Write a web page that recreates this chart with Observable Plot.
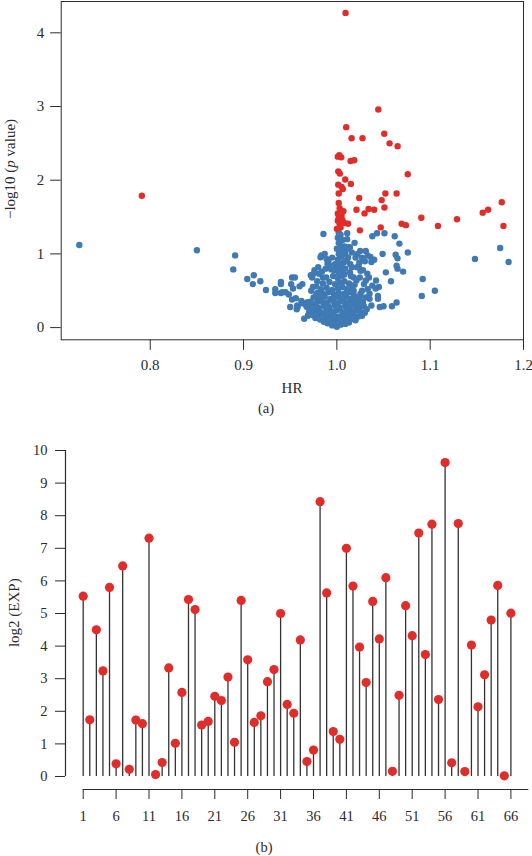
<!DOCTYPE html>
<html>
<head>
<meta charset="utf-8">
<script src="https://cdn.jsdelivr.net/npm/d3@7"></script>
<script src="https://cdn.jsdelivr.net/npm/@observablehq/plot@0.6"></script>
<style>
  html, body { margin: 0; padding: 0; background: #fff; }
  #wrap { width: 532px; height: 856px; overflow: hidden; }
  #wrap svg { display: block; }
  #wrap svg text { font-family: "Liberation Serif", "Times New Roman", serif; }
</style>
</head>
<body>
<div id="wrap"></div>
<script>
// ---------- Panel (a): HR vs -log10(p value) ----------
const redPoints = [
  [1.0093,4.27],[0.791,1.79],[1.0444,2.96],[1.010,2.72],[1.0158,2.57],[1.0275,2.57],
  [1.0508,2.63],[1.0565,2.50],[1.0651,2.46],[1.0026,2.34],[1.0047,2.31],[1.0010,2.32],
  [1.0147,2.26],[1.0186,2.27],[1.0015,2.12],[1.0032,2.09],[1.009,2.01],[1.076,2.08],
  [1.0015,1.94],[1.005,1.91],[1.015,1.95],[1.0064,1.88],[1.002,1.82],[1.024,1.76],
  [1.052,1.82],[1.064,1.82],[1.048,1.73],[1.002,1.69],[1.003,1.62],[1.007,1.58],
  [1.001,1.55],[1.005,1.52],[1.021,1.60],[1.034,1.61],[1.0297,1.55],[1.040,1.60],
  [1.051,1.63],[1.1767,1.70],[1.1563,1.56],[1.1621,1.60],[1.0905,1.49],[1.1287,1.47],
  [1.1083,1.38],[1.1785,1.38],[1.0694,1.41],[1.074,1.39],[1.012,1.41],[1.001,1.45],
  [1.003,1.40],[1.000,1.34],[1.0247,1.32],[1.047,1.36],[1.006,1.46],[1.004,1.36],
  [1.008,1.42],[1.002,1.49]
];

const bluePoints = [
  // far outliers and left arm
  [0.724,1.12],[0.850,1.05],[0.891,0.98],[0.889,0.79],[0.904,0.66],[0.911,0.71],
  [0.910,0.59],[0.918,0.63],[0.924,0.51],[0.934,0.52],[0.934,0.47],[0.940,0.59],
  [0.940,0.47],[0.9485,0.45],[0.952,0.68],[0.955,0.68],[0.951,0.59],[0.953,0.53],
  [0.960,0.56],[0.963,0.59],[0.952,0.38],[0.956,0.40],[0.950,0.28],[0.958,0.28],
  [0.957,0.25],[0.945,0.48],[0.9415,0.48],[0.940,0.62],[0.9575,0.30],
  // left of the cluster
  [0.968,0.34],[0.970,0.19],[0.975,0.23],[0.972,0.71],[0.975,0.73],[0.9735,0.68],
  [0.969,0.34],[0.967,0.30],[0.9707,0.23],[0.969,0.16],[0.9725,0.50],[0.9743,0.55],
  [0.978,0.45],[0.980,0.37],[0.965,0.12],[0.962,0.36],[0.963,0.33],
  [0.981,0.73],[0.985,0.68],[0.9887,0.68],[0.9834,0.98],[0.987,1.0],[0.9825,0.955],
  [0.991,0.89],[0.990,0.87],[0.976,0.78],[0.980,0.82],[0.984,0.76],[0.988,0.80],
  [0.992,0.84],[0.994,0.79],[0.989,0.93],[0.9856,1.27],
  // right scattered
  [1.148,0.93],[1.175,1.08],[1.184,0.89],[1.092,0.66],[1.091,0.43],[1.105,0.50],
  [1.076,1.02],[1.062,1.24],[1.067,1.14],[1.065,0.94],[1.063,0.99],[1.064,0.84],
  [1.065,0.80],[1.071,0.76],[1.058,0.63],[1.0525,0.75],[1.049,1.0],[1.051,1.28],
  [1.043,1.28],[1.038,1.24],[1.064,0.34],[1.059,0.29],[1.050,0.29],[1.045,0.55],
  [1.0415,0.53],[1.042,0.64],[1.038,0.57],[1.036,0.96],[1.040,0.92],[1.037,0.89],
  [1.031,1.04],[1.025,1.04],[1.022,1.0],[1.019,1.15],[1.0111,1.28],[1.014,1.09],
  [1.011,1.07],[1.035,0.46],[1.035,0.39],[1.037,0.30],[1.044,0.39],[1.044,0.43],
  [1.046,0.28],
  // right flank of the cluster
  [1.0107,0.91],[1.0144,0.86],[1.0162,0.82],[1.020,0.95],[1.0217,0.82],[1.0126,1.09],
  [1.0235,0.82],[1.0253,0.77],[1.018,0.68],[1.021,0.64],[1.0246,0.68],[1.029,0.59],
  [1.031,0.64],[1.0326,0.73],[1.0344,0.68],[1.027,0.50],[1.0253,0.46],[1.031,0.41],
  [1.028,0.34],[1.018,0.50],[1.0217,0.37],[1.0235,0.28],[1.0253,0.19],[1.027,0.16],
  [1.030,0.90],[1.027,0.95],[1.033,0.98],[1.016,1.02],[1.024,0.88],[1.028,0.78],
  [1.015,0.70],[1.033,0.52],[1.032,0.25],[1.030,0.20],
  // dense core
  [0.995,0.03],[1.000,0.01],[1.004,0.04],[0.990,0.06],[1.009,0.05],[1.013,0.07],[0.986,0.08],
  [0.982,0.11],[0.988,0.12],[0.994,0.10],[0.999,0.09],[1.005,0.11],[1.010,0.10],[1.016,0.12],
  [1.020,0.10],[0.977,0.13],
  [0.974,0.17],[0.980,0.16],[0.986,0.18],[0.992,0.16],[0.997,0.17],[1.002,0.15],[1.008,0.17],
  [1.013,0.16],[1.018,0.18],[1.023,0.15],
  [0.971,0.22],[0.977,0.23],[0.983,0.21],[0.989,0.23],[0.995,0.22],[1.000,0.24],[1.006,0.21],
  [1.011,0.23],[1.016,0.22],[1.021,0.24],[1.026,0.21],
  [0.968,0.28],[0.974,0.29],[0.980,0.27],[0.986,0.29],[0.992,0.28],[0.998,0.30],[1.003,0.27],
  [1.009,0.29],[1.014,0.28],[1.019,0.30],[1.024,0.27],[1.029,0.29],
  [0.972,0.35],[0.978,0.33],[0.984,0.35],[0.990,0.34],[0.996,0.36],[1.001,0.33],[1.007,0.35],
  [1.012,0.34],[1.017,0.36],[1.022,0.33],[1.027,0.35],
  [0.975,0.41],[0.981,0.40],[0.987,0.42],[0.993,0.39],[0.998,0.41],[1.004,0.40],[1.010,0.42],
  [1.015,0.39],[1.020,0.41],[1.025,0.43],
  [0.979,0.47],[0.985,0.46],[0.991,0.48],[0.997,0.45],[1.002,0.47],[1.008,0.46],[1.013,0.48],
  [1.018,0.45],
  [0.983,0.52],[0.989,0.54],[0.995,0.51],[1.001,0.53],[1.006,0.55],[1.011,0.52],[1.016,0.54],
  [0.978,0.56],
  [0.985,0.60],[0.992,0.62],[0.998,0.59],[1.003,0.61],[1.008,0.63],[1.013,0.60],[0.979,0.63],
  [1.019,0.58],
  // central column
  [1.001,0.67],[1.005,0.70],[1.002,0.74],[1.006,0.78],[1.000,0.81],[1.004,0.85],[1.007,0.88],
  [1.001,0.92],[1.005,0.96],[1.002,1.00],[1.006,1.04],[1.000,1.07],[1.004,1.11],[1.002,1.15],
  [1.006,1.19],[1.001,1.22],[1.004,1.26],[1.002,1.29],[1.008,0.72],[1.009,0.80],[1.010,0.90],
  [0.996,0.70],[0.997,0.78],[0.998,0.86],[1.009,1.00],[1.008,1.10],[1.011,1.20],[1.012,0.95],
  [1.014,0.75],[0.995,0.95]
];

const xTicksA = [0.8, 0.9, 1.0, 1.1, 1.2];
const yTicksA = [0, 1, 2, 3, 4];

// ---------- Panel (b): log2(EXP) lollipop ----------
const log2Exp = [
  5.53, 1.74, 4.50, 3.24, 5.80, 0.39, 6.46, 0.22, 1.73, 1.62,
  7.31, 0.06, 0.43, 3.33, 1.02, 2.58, 5.43, 5.12, 1.58, 1.69,
  2.46, 2.33, 3.05, 1.05, 5.40, 3.58, 1.66, 1.86, 2.91, 3.28,
  5.00, 2.21, 1.94, 4.19, 0.46, 0.81, 8.43, 5.63, 1.38, 1.14,
  7.00, 5.84, 3.97, 2.88, 5.37, 4.22, 6.10, 0.16, 2.49, 5.24,
  4.32, 7.47, 3.74, 7.74, 2.36, 9.63, 0.42, 7.76, 0.15, 4.03,
  2.14, 3.12, 4.80, 5.86, 0.02, 5.01
];
const xTicksB = [1, 6, 11, 16, 21, 26, 31, 36, 41, 46, 51, 56, 61, 66];
const yTicksB = [0, 1, 2, 3, 4, 5, 6, 7, 8, 9, 10];

const BLUE = "#3f7ab4";
const RED = "#e12d2a";
const INK = "#2b2b2b";
const FONT = "Liberation Serif";

const lolli = log2Exp.map((v, k) => ({i: k + 1, v}));

const chartA = Plot.plot({
  width: 532, height: 420,
  marginTop: 1, marginLeft: 60.7, marginRight: 9, marginBottom: 80.7,
  x: {domain: [0.7046, 1.2]},
  y: {domain: [-0.1655, 4.425]},
  style: {fontFamily: FONT, fontSize: "15px", color: INK, background: "#fff", overflow: "visible"},
  marks: [
    Plot.axisX({ticks: xTicksA, tickFormat: d3.format(".1f"), tickSize: 10.5, tickPadding: 9, label: null, fontSize: 15, fontFamily: FONT}),
    Plot.axisY({ticks: yTicksA, tickFormat: d3.format("d"), tickSize: 10.5, tickPadding: 6.5, label: null, fontSize: 15, fontFamily: FONT}),
    Plot.dot(bluePoints, {x: d => d[0], y: d => d[1], r: 3.2, fill: BLUE}),
    Plot.dot(redPoints, {x: d => d[0], y: d => d[1], r: 3.2, fill: RED}),
    Plot.frame({stroke: INK, strokeWidth: 1})
  ]
});

const chartB = Plot.plot({
  width: 532, height: 436,
  marginTop: 20, marginBottom: 67, marginLeft: 65, marginRight: 3.7,
  x: {domain: [-1.69, 68.72]},
  y: {domain: [-0.399, 10.307]},
  style: {fontFamily: FONT, fontSize: "14.5px", color: INK, background: "#fff", overflow: "visible"},
  marks: [
    Plot.ruleX([-1.69], {y1: 0, y2: 10, stroke: INK, strokeWidth: 1.2}),
    Plot.ruleY([-0.399], {x1: 1, x2: 68.72, stroke: INK, strokeWidth: 1.2}),
    Plot.axisY({ticks: yTicksB, tickFormat: d3.format("d"), tickSize: 10, tickPadding: 8, label: null, fontSize: 14.5, fontFamily: FONT}),
    Plot.axisX({ticks: xTicksB, tickFormat: d3.format("d"), tickSize: 10, tickPadding: 11, label: null, fontSize: 14.5, fontFamily: FONT}),
    Plot.ruleX(lolli, {x: "i", y1: 0, y2: "v", stroke: "#333", strokeWidth: 1.3}),
    Plot.dot(lolli, {x: "i", y: "v", r: 4.6, fill: RED})
  ]
});

const wrap = document.getElementById("wrap");
wrap.appendChild(chartA);
wrap.appendChild(chartB);

function addText(svg, x, y, txt, rotate, size) {
  const t = d3.select(svg).append("text")
    .attr("transform", `translate(${x},${y})` + (rotate ? " rotate(-90)" : ""))
    .attr("text-anchor", "middle")
    .attr("dominant-baseline", "central")
    .attr("font-family", FONT)
    .attr("font-size", size || 15)
    .attr("fill", INK);
  return t.text(txt);
}

// Panel (a) labels
const yl = d3.select(chartA).append("text")
  .attr("transform", "translate(9.5,169) rotate(-90)")
  .attr("text-anchor", "middle")
  .attr("dominant-baseline", "central")
  .attr("font-family", FONT)
  .attr("font-size", 15)
  .attr("fill", INK);
yl.append("tspan").text("\u2212log10 (");
yl.append("tspan").attr("font-style", "italic").text("p");
yl.append("tspan").text(" value)");
addText(chartA, 292, 388, "HR", false, 15);
addText(chartA, 266, 408, "(a)", false, 14.5);

// Panel (b) labels
addText(chartB, 13.6, 192.7, "log2 (EXP)", true, 15);
addText(chartB, 264, 427, "(b)", false, 14.5);
</script>
</body>
</html>
